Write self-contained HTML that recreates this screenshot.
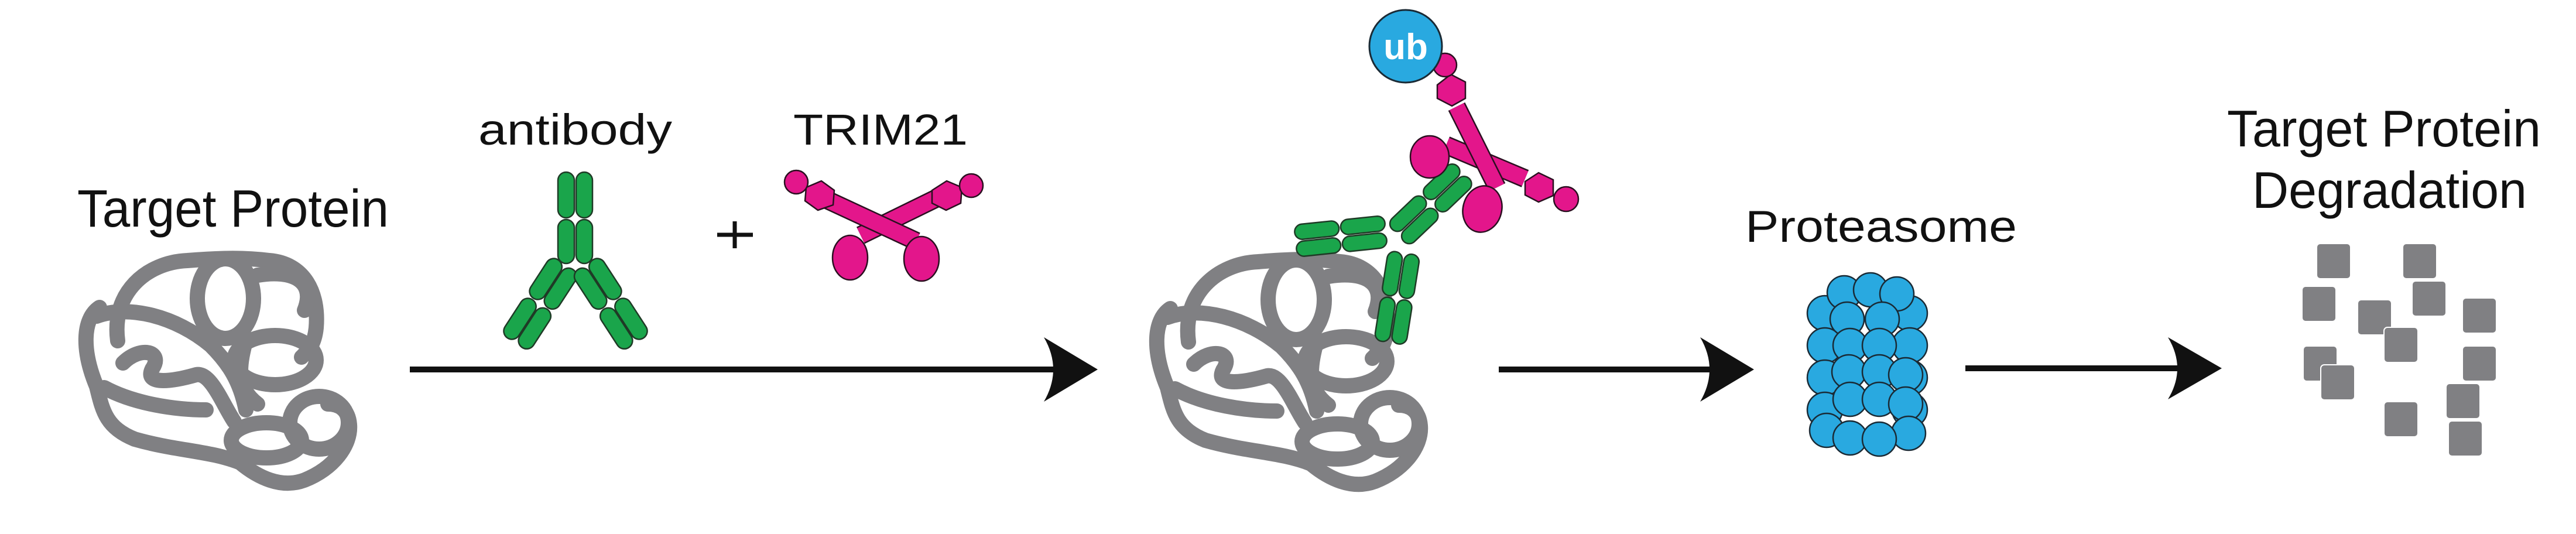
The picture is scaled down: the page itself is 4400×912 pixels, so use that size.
<!DOCTYPE html>
<html><head><meta charset="utf-8"><style>
html,body{margin:0;padding:0;background:#fff;}
svg{display:block;}
text{font-family:"Liberation Sans",Arial,sans-serif;fill:#111;}
</style></head><body>
<svg width="4400" height="912" viewBox="0 0 4400 912" xmlns="http://www.w3.org/2000/svg">
<defs>
<g id="tangle" fill="none" stroke="#808083" stroke-width="26" stroke-linecap="round" stroke-linejoin="round">
  <path d="M201,582 C190,500 250,448 320,445 C380,440 420,440 460,445 C520,450 545,500 540,560 C537,590 525,600 515,610"/>
  <ellipse cx="385" cy="510" rx="48" ry="68"/>
  <path d="M170,525 C140,545 140,600 165,660 C175,700 180,730 230,750 C300,770 360,770 410,790 C440,815 480,835 520,820 C570,800 600,760 597,725 C595,700 580,690 560,690"/>
  <ellipse cx="470" cy="615" rx="70" ry="42"/>
  <ellipse cx="545" cy="722" rx="50" ry="45"/>
  <ellipse cx="455" cy="752" rx="60" ry="30"/>
  <path d="M210,620 C240,590 280,600 260,630 C245,660 300,650 335,640 C360,635 380,690 400,720"/>
  <path d="M165,540 C220,520 300,540 360,590 C390,620 410,650 420,700"/>
  <path d="M178,662 C230,690 300,700 352,700"/>
  <path d="M420,580 C410,620 400,660 440,690"/>
  <path d="M440,470 C500,460 540,480 520,530"/>
</g>
<g id="pillpair" fill="#1aa54b" stroke="#1f3a26" stroke-width="2.5">
  <rect x="0" y="-28" width="76" height="26" rx="13"/>
  <rect x="79" y="-28" width="76" height="26" rx="13"/>
  <rect x="0" y="1" width="76" height="26" rx="13"/>
  <rect x="79" y="1" width="76" height="26" rx="13"/>
</g>
</defs>

<text x="132" y="387" font-size="90" textLength="532" lengthAdjust="spacingAndGlyphs">Target Protein</text>
<text x="817" y="247" font-size="74" textLength="331" lengthAdjust="spacingAndGlyphs">antibody</text>
<text x="1355" y="247" font-size="74" textLength="298" lengthAdjust="spacingAndGlyphs">TRIM21</text>
<text x="2981" y="413" font-size="76" textLength="464" lengthAdjust="spacingAndGlyphs">Proteasome</text>
<text x="3804" y="250" font-size="88" textLength="536" lengthAdjust="spacingAndGlyphs">Target Protein</text>
<text x="3847" y="355" font-size="88" textLength="469" lengthAdjust="spacingAndGlyphs">Degradation</text>

<use href="#tangle"/>
<use href="#tangle" transform="translate(1829,2)"/>

<g fill="#1aa54b" stroke="#1f3a26" stroke-width="2.5">
  <rect x="953" y="294" width="28" height="78" rx="14"/>
  <rect x="984" y="294" width="28" height="78" rx="14"/>
  <rect x="953" y="375" width="28" height="75" rx="14"/>
  <rect x="984" y="375" width="28" height="75" rx="14"/>
  <g transform="translate(966,452) rotate(33)">
    <rect x="-29" y="0" width="28" height="78" rx="14"/>
    <rect x="1" y="0" width="28" height="78" rx="14"/>
    <rect x="-29" y="81" width="28" height="78" rx="14"/>
    <rect x="1" y="81" width="28" height="78" rx="14"/>
  </g>
  <g transform="translate(1000,452) rotate(-33)">
    <rect x="-29" y="0" width="28" height="78" rx="14"/>
    <rect x="1" y="0" width="28" height="78" rx="14"/>
    <rect x="-29" y="81" width="28" height="78" rx="14"/>
    <rect x="1" y="81" width="28" height="78" rx="14"/>
  </g>
</g>

<g stroke="#111" stroke-width="7">
  <line x1="1225" y1="401" x2="1286" y2="401"/>
  <line x1="1255" y1="378" x2="1255" y2="424"/>
</g>

<g fill="#e3168b" stroke="#2a1020" stroke-width="2.5">
  <line x1="1470" y1="402" x2="1613" y2="332" stroke="#2a1020" stroke-width="32"/>
  <line x1="1470" y1="402" x2="1613" y2="332" stroke="#e3168b" stroke-width="27"/>
  <ellipse cx="1452" cy="440" rx="30" ry="38"/>
  <polygon points="1592,325 1617,309 1643,320 1641,347 1616,359 1592,347"/>
  <circle cx="1659" cy="317" r="20"/>
  <line x1="1410" y1="340" x2="1565" y2="412" stroke="#2a1020" stroke-width="32"/>
  <line x1="1410" y1="340" x2="1565" y2="412" stroke="#e3168b" stroke-width="27"/>
  <ellipse cx="1574" cy="442" rx="30" ry="38"/>
  <polygon points="1377,320 1403,309 1425,325 1423,350 1397,359 1375,343"/>
  <circle cx="1360" cy="311" r="20"/>
</g>

<use href="#pillpair" transform="translate(2213,412) rotate(-6)"/>
<use href="#pillpair" transform="translate(2388,402) rotate(-43.6)"/>
<use href="#pillpair" transform="translate(2398,432) rotate(99)"/>

<g fill="#e3168b" stroke="#2a1020" stroke-width="2.5">
  <line x1="2470" y1="248" x2="2605" y2="305" stroke="#2a1020" stroke-width="32"/>
  <line x1="2470" y1="248" x2="2605" y2="305" stroke="#e3168b" stroke-width="27"/>
  <ellipse cx="2442" cy="268" rx="33" ry="36"/>
  <polygon points="2605,310 2628,295 2653,307 2653,334 2628,345 2605,333"/>
  <circle cx="2675" cy="340" r="21"/>
  <line x1="2488" y1="182" x2="2557" y2="320" stroke="#2a1020" stroke-width="32"/>
  <line x1="2488" y1="182" x2="2557" y2="320" stroke="#e3168b" stroke-width="27"/>
  <ellipse cx="2532" cy="357" rx="33" ry="40" transform="rotate(15 2532 357)"/>
  <polygon points="2455,145 2478,127 2503,140 2503,168 2480,181 2455,168"/>
  <circle cx="2468" cy="111" r="20"/>
</g>
<circle cx="2401" cy="79" r="62" fill="#29a9e0" stroke="#1a2a35" stroke-width="3"/>
<text x="2401" y="101" font-size="62" font-weight="bold" text-anchor="middle" style="fill:#fff">ub</text>

<g fill="#111">
  <rect x="700" y="626" width="1100" height="10"/>
  <path d="M1875,631 L1783,576 Q1815,631 1783,686 Z"/>
  <rect x="2560" y="626" width="370" height="10"/>
  <path d="M2996,631 L2904,576 Q2936,631 2904,686 Z"/>
  <rect x="3357" y="624" width="370" height="10"/>
  <path d="M3795,629 L3703,576 Q3735,629 3703,682 Z"/>
</g>

<g fill="#29a9e0" stroke="#1a2a35" stroke-width="2.5">
  <circle cx="3117" cy="535" r="30"/><circle cx="3262" cy="535" r="30"/>
  <circle cx="3117" cy="590" r="30"/><circle cx="3262" cy="590" r="30"/>
  <circle cx="3117" cy="645" r="30"/><circle cx="3262" cy="645" r="30"/>
  <circle cx="3117" cy="700" r="30"/><circle cx="3262" cy="700" r="30"/>
  <circle cx="3150" cy="500" r="29"/><circle cx="3195" cy="495" r="29"/><circle cx="3240" cy="502" r="29"/>
  <circle cx="3155" cy="545" r="29"/><circle cx="3215" cy="545" r="29"/>
  <circle cx="3160" cy="590" r="29"/><circle cx="3210" cy="590" r="29"/>
  <circle cx="3158" cy="635" r="29"/><circle cx="3210" cy="635" r="29"/><circle cx="3255" cy="640" r="29"/>
  <circle cx="3160" cy="682" r="29"/><circle cx="3210" cy="682" r="29"/><circle cx="3255" cy="690" r="29"/>
  <circle cx="3120" cy="735" r="29"/><circle cx="3260" cy="740" r="29"/>
  <circle cx="3160" cy="748" r="29"/><circle cx="3210" cy="750" r="29"/>
</g>

<g fill="#808083" stroke="#fff" stroke-width="2">
  <rect x="3957" y="416" width="58" height="60" rx="6"/>
  <rect x="4104" y="416" width="58" height="60" rx="6"/>
  <rect x="3932" y="489" width="58" height="60" rx="6"/>
  <rect x="4120" y="480" width="58" height="60" rx="6"/>
  <rect x="4027" y="512" width="58" height="60" rx="6"/>
  <rect x="4206" y="509" width="58" height="60" rx="6"/>
  <rect x="4072" y="559" width="58" height="60" rx="6"/>
  <rect x="3934" y="591" width="58" height="60" rx="6"/>
  <rect x="4206" y="591" width="58" height="60" rx="6"/>
  <rect x="3964" y="623" width="58" height="60" rx="6"/>
  <rect x="4178" y="655" width="58" height="60" rx="6"/>
  <rect x="4072" y="686" width="58" height="60" rx="6"/>
  <rect x="4182" y="719" width="58" height="60" rx="6"/>
</g>
</svg>
</body></html>
